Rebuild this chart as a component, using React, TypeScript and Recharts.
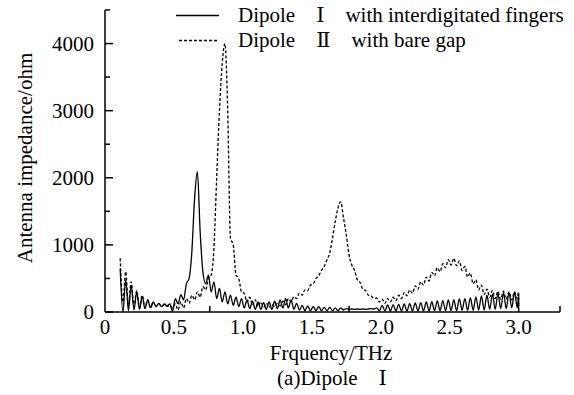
import { LineChart, Line, XAxis, YAxis, Legend } from "recharts";

const FONT = '"Liberation Serif", "Times New Roman", Times, "DejaVu Serif", serif';
const FS = 21;

// frequency grid in THz
const freq = [
  0.11, 0.13, 0.15, 0.17, 0.19, 0.21, 0.23, 0.25, 0.27, 0.29,
  0.31, 0.33, 0.35, 0.37, 0.39, 0.41, 0.43, 0.45, 0.47, 0.49,
  0.51, 0.53, 0.55, 0.57, 0.59, 0.61, 0.63, 0.65, 0.67, 0.69,
  0.71, 0.73, 0.75, 0.77, 0.79, 0.81, 0.83, 0.85, 0.87, 0.89,
  0.91, 0.93, 0.95, 0.97, 0.99, 1.01, 1.03, 1.05, 1.07, 1.09,
  1.11, 1.13, 1.15, 1.17, 1.19, 1.21, 1.23, 1.25, 1.27, 1.29,
  1.31, 1.33, 1.35, 1.37, 1.39, 1.41, 1.43, 1.45, 1.47, 1.49,
  1.51, 1.53, 1.55, 1.57, 1.59, 1.61, 1.63, 1.65, 1.67, 1.69,
  1.71, 1.73, 1.75, 1.77, 1.79, 1.81, 1.83, 1.85, 1.87, 1.89,
  1.91, 1.93, 1.95, 1.97, 1.99, 2.01, 2.03, 2.05, 2.07, 2.09,
  2.11, 2.13, 2.15, 2.17, 2.19, 2.21, 2.23, 2.25, 2.27, 2.29,
  2.31, 2.33, 2.35, 2.37, 2.39, 2.41, 2.43, 2.45, 2.47, 2.49,
  2.51, 2.53, 2.55, 2.57, 2.59, 2.61, 2.63, 2.65, 2.67, 2.69,
  2.71, 2.73, 2.75, 2.77, 2.79, 2.81, 2.83, 2.85, 2.87, 2.89,
  2.91, 2.93, 2.95, 2.97, 2.99, 3.0, 3.0,
];

// Dipole I, interdigitated fingers (ohm)
const dipole1 = [
  650, 0, 480, 20, 400, 30, 300, 40, 230, 50,
  180, 60, 150, 80, 130, 80, 120, 90, 120, 10,
  200, 120, 260, 180, 420, 500, 900, 1700, 2090, 1200,
  600, 420, 550, 300, 450, 200, 350, 150, 300, 120,
  250, 100, 220, 80, 200, 60, 180, 50, 160, 40,
  150, 40, 140, 40, 150, 40, 160, 50, 180, 60,
  200, 60, 180, 40, 130, 30, 100, 20, 90, 20,
  80, 20, 80, 20, 70, 20, 70, 20, 60, 20,
  60, 30, 50, 40, 45, 40, 45, 40, 45, 40,
  45, 50, 45, 60, 20, 100, 15, 105, 15, 110,
  15, 115, 15, 120, 15, 125, 15, 135, 15, 140,
  15, 150, 15, 155, 20, 165, 20, 170, 20, 180,
  20, 185, 20, 195, 25, 200, 25, 215, 25, 225,
  30, 240, 30, 250, 40, 265, 40, 275, 50, 285,
  50, 290, 60, 300, 60, 250, 0,
];

// Dipole II, bare gap (ohm)
const dipole2 = [
  800, 150, 600, 100, 450, 80, 320, 60, 250, 60,
  180, 70, 150, 80, 130, 80, 110, 80, 100, 60,
  120, 30, 150, 60, 200, 130, 250, 180, 300, 220,
  380, 330, 500, 550, 950, 2000, 3000, 3700, 4000, 3000,
  1100, 1000, 550, 500, 300, 280, 150, 220, 100, 180,
  80, 150, 70, 130, 70, 120, 80, 130, 90, 160,
  110, 200, 150, 230, 200, 280, 250, 330, 320, 400,
  420, 500, 540, 620, 680, 780, 880, 1100, 1350, 1550,
  1640, 1400, 1150, 850, 700, 620, 480, 440, 340, 320,
  250, 240, 200, 210, 150, 190, 130, 200, 150, 220,
  170, 250, 200, 290, 240, 330, 280, 390, 340, 450,
  400, 520, 460, 590, 540, 660, 600, 720, 660, 780,
  700, 800, 690, 760, 620, 680, 520, 580, 420, 480,
  330, 400, 260, 340, 220, 320, 200, 310, 190, 310,
  190, 300, 180, 300, 200, 300, 0,
];

const xLabels = [0, 0.5, 1, 1.5, 2, 2.5, 3];
const xMarks = [0.76, 1.77, 3.3];
const yTicks = [0, 500, 1000, 1500, 2000, 2500, 3000, 3500, 4000, 4500];
const yLabels = [0, 1000, 2000, 3000, 4000];

const data = freq.map((f, i) => ({ freq: f, d1: dipole1[i], d2: dipole2[i] }));

function XTick(props: any) {
  const { x, y, payload } = props;
  const v = payload.value;
  if (xMarks.includes(v)) {
    return <line x1={x} x2={x} y1={y} y2={y - 6} stroke="#000" strokeWidth={1.5} />;
  }
  return (
    <text x={x} y={y + 22} textAnchor="middle" fontFamily={FONT} fontSize={FS} fill="#000">
      {v === 0 ? "0" : v.toFixed(1)}
    </text>
  );
}

function YTick(props: any) {
  const { x, y, payload } = props;
  const v = payload.value;
  const major = yLabels.includes(v);
  return (
    <g>
      <line x1={x} x2={x + (major ? 8 : 5)} y1={y} y2={y} stroke="#000" strokeWidth={1.5} />
      {major && (
        <text x={x - 11} y={y + 7} textAnchor="end" fontFamily={FONT} fontSize={FS} fill="#000">
          {v}
        </text>
      )}
    </g>
  );
}

function LegendBox(props: any) {
  const { payload } = props;
  return (
    <div style={{ fontFamily: FONT, fontSize: FS, color: "#000" }}>
      {(payload || []).map((entry: any) => (
        <div key={entry.value} style={{ display: "flex", alignItems: "center", height: 25 }}>
          <svg width={43} height={25}>
            <line
              x1={entry.payload?.strokeDasharray ? 3 : 0}
              x2={43}
              y1={12.5}
              y2={12.5}
              stroke="#000"
              strokeWidth={1.3}
              strokeDasharray={entry.payload?.strokeDasharray}
            />
          </svg>
          <span style={{ marginLeft: 19, whiteSpace: "pre", lineHeight: "25px" }}>{entry.value}</span>
        </div>
      ))}
    </div>
  );
}

const textStyle = {
  position: "absolute" as const,
  fontFamily: FONT,
  fontSize: FS,
  whiteSpace: "pre" as const,
  color: "#000",
};

export default function App() {
  return (
    <div style={{ position: "absolute", left: 0, top: 0, width: 574, height: 395, background: "#fff" }}>
      <LineChart
        width={574}
        height={395}
        data={data}
        margin={{ top: 10, right: 14, bottom: 53, left: 45 }}
      >
        <XAxis
          type="number"
          dataKey="freq"
          domain={[0, 3.3]}
          ticks={[...xLabels, ...xMarks]}
          interval={0}
          tick={<XTick />}
          tickLine={false}
          tickSize={0}
          tickMargin={0}
          axisLine={{ stroke: "#000", strokeWidth: 1.5 }}
          height={30}
          allowDataOverflow
        />
        <YAxis
          type="number"
          domain={[0, 4500]}
          ticks={yTicks}
          interval={0}
          tick={<YTick />}
          tickLine={false}
          tickSize={0}
          tickMargin={0}
          axisLine={{ stroke: "#000", strokeWidth: 1.5 }}
          width={60}
          allowDataOverflow
        />
        <Legend
          layout="vertical"
          align="center"
          verticalAlign="middle"
          content={<LegendBox />}
          wrapperStyle={{ position: "absolute", top: 2.5, left: 176, width: 400 }}
        />
        <Line
          name={"Dipole\u3000Ⅰ\u3000with interdigitated fingers"}
          type="monotone"
          dataKey="d1"
          stroke="#000"
          strokeWidth={1.3}
          dot={false}
          isAnimationActive={false}
        />
        <Line
          name={"Dipole\u3000Ⅱ\u3000with bare gap"}
          type="monotone"
          dataKey="d2"
          stroke="#000"
          strokeWidth={1.3}
          strokeDasharray="3 2"
          dot={false}
          isAnimationActive={false}
        />
      </LineChart>
      <div style={{ ...textStyle, left: 331, top: 353, transform: "translate(-50%, -50%)" }}>
        Frquency/THz
      </div>
      <div style={{ ...textStyle, left: 332, top: 378, transform: "translate(-50%, -50%)" }}>
        {"(a)Dipole\u3000Ⅰ"}
      </div>
      <div
        style={{
          ...textStyle,
          left: 25,
          top: 158,
          transform: "translate(-50%, -50%) rotate(-90deg)",
        }}
      >
        Antenna impedance/ohm
      </div>
    </div>
  );
}
